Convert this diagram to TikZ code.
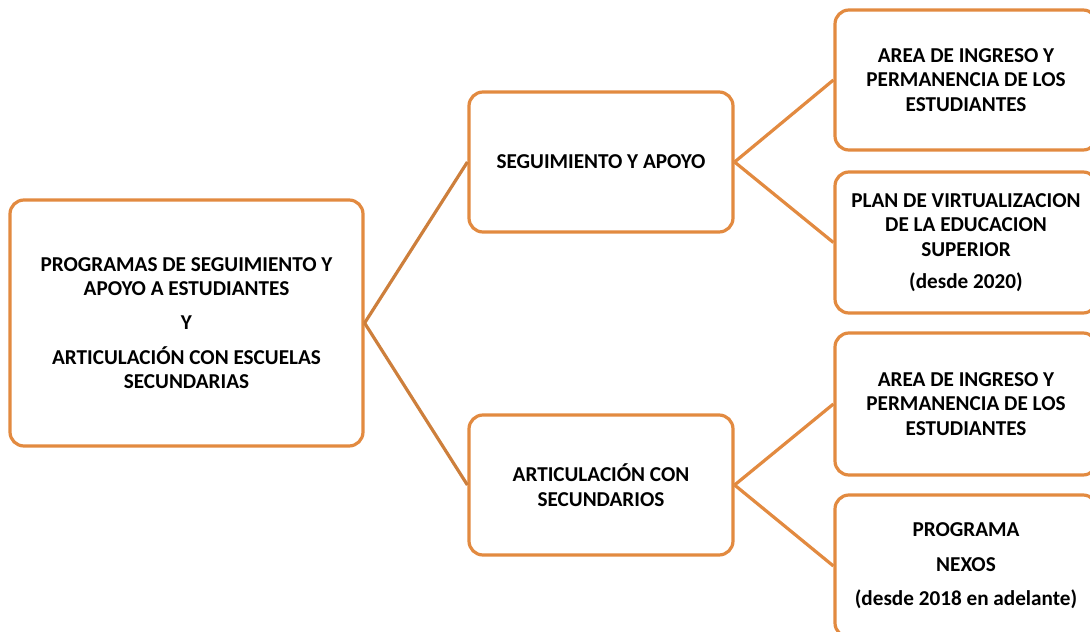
\documentclass[tikz,border=0pt]{standalone}
\usepackage{fontspec}
\setmainfont{Carlito}
\definecolor{boxor}{RGB}{226,138,64}
\definecolor{lineor}{RGB}{205,127,60}
\begin{document}
\begin{tikzpicture}[x=1pt,y=-1pt,
  box/.style={draw=boxor, line width=3.2pt, rounded corners=14pt, fill=white,
    align=center, inner sep=0pt, font=\fontsize{21.2}{24.4}\selectfont\bfseries},
  conn/.style={draw=lineor, line width=3.2pt},
  conn2/.style={draw=boxor, line width=3.2pt}]
\useasboundingbox (0,0) rectangle (1090,632);
\node[box, minimum width=353pt, minimum height=246pt] (root) at (186.5,323)
  {PROGRAMAS DE SEGUIMIENTO Y\\APOYO A ESTUDIANTES\\[10pt]Y\\[10pt]ARTICULACIÓN CON ESCUELAS\\SECUNDARIAS};
\node[box, minimum width=264pt, minimum height=140pt] (seg) at (601,162) {SEGUIMIENTO Y APOYO};
\node[box, minimum width=264pt, minimum height=140pt] (art) at (601,485) {ARTICULACIÓN CON\\SECUNDARIOS};
\node[box, minimum width=262pt, minimum height=140pt] (r1) at (966,80)
  {AREA DE INGRESO Y\\PERMANENCIA DE LOS\\ESTUDIANTES};
\node[box, minimum width=262pt, minimum height=141pt] (r2) at (966,242.5)
  {PLAN DE VIRTUALIZACION\\DE LA EDUCACION\\SUPERIOR\\[8pt](desde 2020)};
\node[box, minimum width=262pt, minimum height=142pt] (r3) at (966,404)
  {AREA DE INGRESO Y\\PERMANENCIA DE LOS\\ESTUDIANTES};
\node[box, minimum width=262pt, minimum height=142pt] (r4) at (966,566)
  {PROGRAMA\\[10pt]NEXOS\\[10pt](desde 2018 en adelante)};
\draw[conn] (root.east) -- (seg.west);
\draw[conn] (root.east) -- (art.west);
\draw[conn2] (seg.east) -- (r1.west);
\draw[conn2] (seg.east) -- (r2.west);
\draw[conn2] (art.east) -- (r3.west);
\draw[conn2] (art.east) -- (r4.west);
\end{tikzpicture}
\end{document}
